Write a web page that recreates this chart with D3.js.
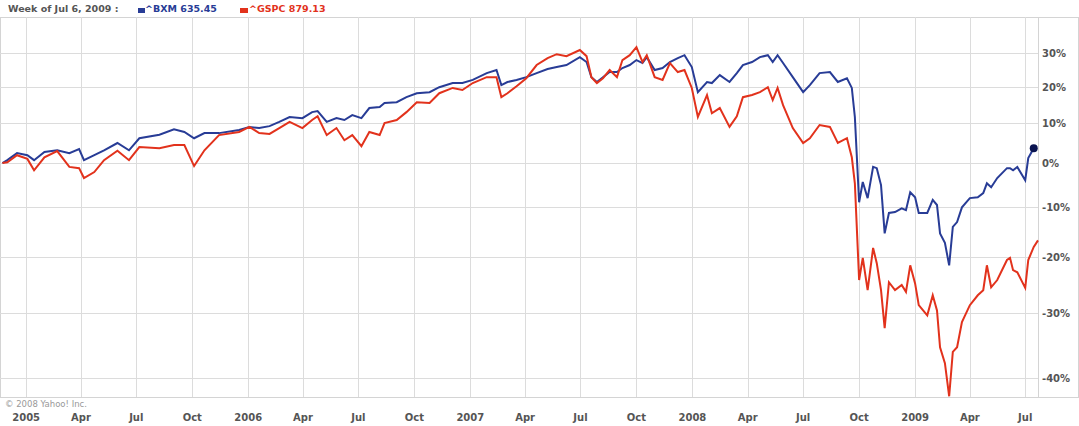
<!DOCTYPE html>
<html>
<head>
<meta charset="utf-8">
<script src="https://cdn.jsdelivr.net/npm/d3@7"></script>
<style>
  body { margin: 0; background: #fff; }
  text { font-family: "DejaVu Sans", Verdana, sans-serif; }
</style>
</head>
<body>
<svg id="chart" width="1079" height="426"></svg>
<script>
// weekly-ish samples, % change since start
const dates = ["2004-11-23","2004-12-01","2004-12-17","2005-01-03","2005-01-14","2005-01-31","2005-02-21","2005-03-13","2005-03-29","2005-04-06",
  "2005-04-23","2005-05-09","2005-05-31","2005-06-19","2005-07-06","2005-08-08","2005-09-01","2005-09-18","2005-10-04","2005-10-21",
  "2005-11-14","2005-12-17","2006-01-03","2006-01-19","2006-02-05","2006-02-21","2006-03-10","2006-03-31","2006-04-16","2006-04-25",
  "2006-05-10","2006-05-26","2006-06-08","2006-06-21","2006-07-06","2006-07-19","2006-08-05","2006-08-13","2006-09-02","2006-09-18",
  "2006-10-05","2006-10-26","2006-11-11","2006-12-03","2006-12-19","2007-01-05","2007-01-28","2007-02-13","2007-02-21","2007-03-03",
  "2007-03-18","2007-04-03","2007-04-20","2007-05-08","2007-05-23","2007-06-08","2007-06-30","2007-07-11","2007-07-19","2007-07-28",
  "2007-08-07","2007-08-18","2007-08-30","2007-09-08","2007-09-20","2007-10-01","2007-10-11","2007-10-18","2007-10-31","2007-11-13",
  "2007-11-25","2007-12-08","2007-12-19","2007-12-31","2008-01-10","2008-01-25","2008-02-02","2008-02-15","2008-03-02","2008-03-14",
  "2008-03-24","2008-04-08","2008-04-21","2008-05-04","2008-05-12","2008-05-20","2008-05-29","2008-06-14","2008-07-01","2008-07-12",
  "2008-07-28","2008-08-14","2008-08-27","2008-09-11","2008-09-19","2008-09-24","2008-10-01","2008-10-07","2008-10-15","2008-10-24",
  "2008-10-30","2008-11-06","2008-11-12","2008-11-19","2008-11-29","2008-12-10","2008-12-17","2008-12-24","2009-01-01","2009-01-07",
  "2009-01-21","2009-01-30","2009-02-06","2009-02-11","2009-02-19","2009-02-26","2009-03-04","2009-03-11","2009-03-19","2009-04-01",
  "2009-04-14","2009-04-23","2009-04-29","2009-05-06","2009-05-16","2009-06-01","2009-06-06","2009-06-11","2009-06-18","2009-07-01",
  "2009-07-06","2009-07-15","2009-07-22"];

const bxm = [0,0.7,2.4,1.9,0.7,2.7,3.1,2.4,3.4,0.7,
  1.9,3.1,4.9,3.1,6.1,7.0,8.4,7.7,6.1,7.4,
  7.4,8.2,9.0,8.7,9.2,10.3,11.6,11.3,12.9,13.2,
  10.3,11.3,10.8,12.1,11.3,14.0,14.3,15.4,15.6,17.0,
  18.1,18.4,19.8,21.0,21.0,21.9,23.9,24.8,20.4,21.3,
  21.9,22.7,23.9,25.1,25.7,26.3,28.7,27.2,22.7,21.3,
  22.7,24.2,24.2,25.4,26.3,27.8,26.9,28.7,24.8,25.4,
  27.2,28.4,29.3,25.7,18.4,21.3,21.0,23.3,21.3,23.9,
  26.3,27.2,28.7,29.3,27.2,29.3,26.9,22.7,18.4,20.4,
  23.9,24.2,21.3,22.4,19.6,11.6,-8.9,-4.4,-8.0,-0.9,
  -1.2,-5.1,-15.4,-11.2,-11.0,-10.2,-10.6,-6.7,-7.8,-11.2,
  -11.2,-8.4,-9.5,-15.4,-17.3,-21.6,-14.1,-13.1,-10.0,-8.0,
  -7.8,-6.9,-4.7,-5.6,-3.5,-1.2,-1.2,-1.7,-0.9,-4.0,
  1.2,3.6,null];

const gspc = [0,0.2,1.9,1.0,-1.7,1.4,2.9,-0.9,-1.2,-3.5,
  -2.1,0.7,3.0,0.7,3.9,3.6,4.4,4.4,-0.7,3.1,
  6.9,7.7,9.0,7.4,7.2,8.7,10.3,8.7,10.8,11.8,
  6.9,8.7,5.6,6.9,4.1,7.7,6.9,10.0,10.8,12.9,
  15.6,15.4,18.1,19.6,19.0,21.0,22.7,22.7,17.0,18.1,
  20.1,22.4,26.3,28.4,29.6,29.0,30.9,29.0,22.7,21.0,
  22.4,24.8,22.7,27.8,29.3,31.8,27.2,29.3,22.7,21.9,
  26.9,24.2,24.8,19.6,11.6,17.6,12.6,14.0,9.0,11.8,
  17.0,17.6,18.4,19.8,16.2,19.6,14.8,8.7,4.9,6.1,
  9.5,9.0,4.9,6.1,1.4,-4.7,-24.3,-20.2,-26.1,-18.3,
  -21.2,-26.1,-32.5,-24.7,-26.1,-25.2,-26.4,-21.6,-24.9,-28.7,
  -30.4,-27.0,-29.6,-35.5,-37.9,-42.6,-36.2,-35.5,-31.5,-28.7,
  -27.0,-26.1,-21.6,-25.6,-24.3,-20.6,-20.2,-22.5,-22.9,-25.7,
  -20.6,-18.1,-16.8];

const yTicks = [30, 20, 10, 0, -10, -20, -30, -40];
const quarterLabels = ["2005","Apr","Jul","Oct","2006","Apr","Jul","Oct","2007","Apr","Jul","Oct","2008","Apr","Jul","Oct","2009","Apr","Jul"];

const blue = "#283c96", red = "#e2321c";
const parse = d3.timeParse("%Y-%m-%d");
const svg = d3.select("#chart");
const W = 1079;
const plotLeft = 0, plotRight = 1038, plotTop = 17, plotBottom = 397;

const x = d3.scaleTime()
  .domain([parse("2004-11-19"), parse("2009-07-22")])
  .range([plotLeft, plotRight]);
// log scale on (1 + pct/100), as in the reference axis spacing
const y = d3.scaleLog()
  .domain([0.573, 1.416])
  .range([plotBottom, plotTop]);

// frame
svg.append("rect").attr("x", 0.5).attr("y", plotTop + 0.5).attr("width", W - 1).attr("height", plotBottom - plotTop)
  .attr("fill", "none").attr("stroke", "#d4d4d4");

const quarters = d3.timeMonth.every(3).range(parse("2005-01-01"), parse("2009-07-02"));
svg.append("g").selectAll("line").data(quarters).enter().append("line")
  .attr("x1", d => Math.round(x(d)) + 0.5).attr("x2", d => Math.round(x(d)) + 0.5)
  .attr("y1", plotTop).attr("y2", plotBottom)
  .attr("stroke", "#dcdcdc");

svg.append("g").selectAll("line").data(yTicks).enter().append("line")
  .attr("x1", plotLeft).attr("x2", plotRight)
  .attr("y1", d => Math.round(y(1 + d / 100)) + 0.5).attr("y2", d => Math.round(y(1 + d / 100)) + 0.5)
  .attr("stroke", "#dcdcdc");

svg.append("line").attr("x1", plotRight + 0.5).attr("x2", plotRight + 0.5).attr("y1", plotTop).attr("y2", plotBottom)
  .attr("stroke", "#d4d4d4");

// axes text
svg.append("g").selectAll("text").data(yTicks).enter().append("text")
  .attr("x", 1042).attr("y", d => y(1 + d / 100) + 4)
  .attr("font-size", 10).attr("font-weight", "bold").attr("fill", "#555")
  .text(d => d + "%");

svg.append("g").selectAll("text").data(quarters).enter().append("text")
  .attr("x", d => x(d)).attr("y", 421).attr("text-anchor", "middle")
  .attr("font-size", 10).attr("font-weight", "bold").attr("fill", "#555")
  .text((d, i) => quarterLabels[i]);

svg.append("text").attr("x", 5).attr("y", 407).attr("font-size", 8.5).attr("fill", "#999")
  .text("© 2008 Yahoo! Inc.");

// header
svg.append("text").attr("x", 8).attr("y", 12).attr("font-size", 9.5).attr("font-weight", "bold").attr("fill", "#555")
  .text("Week of Jul 6, 2009 :");
svg.append("rect").attr("x", 138).attr("y", 8).attr("width", 7).attr("height", 5).attr("fill", blue);
svg.append("text").attr("x", 145).attr("y", 12).attr("font-size", 9.5).attr("font-weight", "bold").attr("fill", blue)
  .text("^BXM  635.45");
svg.append("rect").attr("x", 240).attr("y", 8).attr("width", 8).attr("height", 5).attr("fill", red);
svg.append("text").attr("x", 249).attr("y", 12).attr("font-size", 9.5).attr("font-weight", "bold").attr("fill", red)
  .text("^GSPC  879.13");

// lines
const line = vals => d3.line()
  .defined((d, i) => vals[i] !== null)
  .x((d, i) => x(parse(dates[i])))
  .y((d, i) => y(1 + vals[i] / 100));

svg.append("path").datum(dates).attr("d", line(bxm))
  .attr("fill", "none").attr("stroke", blue).attr("stroke-width", 2);
svg.append("path").datum(dates).attr("d", line(gspc))
  .attr("fill", "none").attr("stroke", red).attr("stroke-width", 2);

const lastB = bxm.length - 2;
svg.append("circle").attr("cx", x(parse(dates[lastB]))).attr("cy", y(1 + bxm[lastB] / 100))
  .attr("r", 4).attr("fill", "#0a1450");
</script>
</body>
</html>
